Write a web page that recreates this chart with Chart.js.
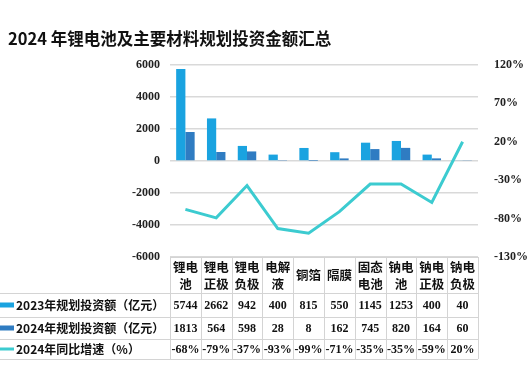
<!DOCTYPE html>
<html>
<head>
<meta charset="utf-8">
<script src="https://cdn.jsdelivr.net/npm/chart.js@4"></script>
<style>
  body { margin: 0; background: #fff; }
  #title { position: absolute; left: 8px; top: 26px; font: bold 16.5px "Noto Sans CJK SC", sans-serif; color: #111; }
  #wrap { position: absolute; left: 0; top: 0; }
</style>
</head>
<body>
<div id="wrap"><canvas id="touzi" width="527" height="367"></canvas></div>
<div id="title">2024 年锂电池及主要材料规划投资金额汇总</div>
<script>
// 分类（表头は2行に分けて表示）
const categories = [['锂电', '池'], ['锂电', '正极'], ['锂电', '负极'], ['电解', '液'], ['铜箔'], ['隔膜'], ['固态', '电池'], ['钠电', '池'], ['钠电', '正极'], ['钠电', '负极']];
const invest2023 = [5744, 2662, 942, 400, 815, 550, 1145, 1253, 400, 40];
const invest2024 = [1813, 564, 598, 28, 8, 162, 745, 820, 164, 60];
const growth = [-68, -79, -37, -93, -99, -71, -35, -35, -59, 20];
const seriesNames = ['2023年规划投资额（亿元）', '2024年规划投资额（亿元）', '2024年同比增速（%）'];
const leftTicks = [-6000, -4000, -2000, 0, 2000, 4000, 6000];
const rightTicks = [-130, -80, -30, 20, 70, 120];

const c1 = '#1aa3e0', c2 = '#2f7cc2', c3 = '#3ccbd0';

// 下のデータ表を描くプラグイン
const tablePlugin = {
  id: 'dataTable',
  afterDraw(chart) {
    const ctx = chart.ctx;
    const area = chart.chartArea;
    const n = categories.length;
    const w = (area.right - area.left) / n;
    const rows = [area.bottom, 293, 317, 339, 359];
    ctx.save();
    ctx.strokeStyle = '#d4d4d4';
    ctx.lineWidth = 1;
    // 縦線
    for (let i = 0; i <= n; i++) {
      const x = Math.round(area.left + i * w) + 0.5;
      ctx.beginPath(); ctx.moveTo(x, rows[0]); ctx.lineTo(x, rows[4]); ctx.stroke();
    }
    // 横線
    ctx.beginPath(); ctx.moveTo(area.left, rows[0] + 0.5); ctx.lineTo(area.right, rows[0] + 0.5); ctx.stroke();
    for (let r = 1; r < rows.length; r++) {
      ctx.beginPath(); ctx.moveTo(0, rows[r] + 0.5); ctx.lineTo(area.right, rows[r] + 0.5); ctx.stroke();
    }
    ctx.fillStyle = '#111';
    ctx.textAlign = 'center';
    ctx.textBaseline = 'middle';
    // 表頭
    ctx.font = 'bold 12.5px "Noto Sans CJK SC"';
    categories.forEach((lab, i) => {
      const cx = area.left + (i + 0.5) * w;
      const mid = (rows[0] + rows[1]) / 2;
      if (lab.length === 1) {
        ctx.fillText(lab[0], cx, mid);
      } else {
        ctx.fillText(lab[0], cx, mid - 8);
        ctx.fillText(lab[1], cx, mid + 9);
      }
    });
    // 数値
    ctx.font = 'bold 12px "Liberation Serif"';
    const vals = [invest2023, invest2024, growth.map(v => v + '%')];
    vals.forEach((arr, r) => {
      const cy = (rows[r + 1] + rows[r + 2]) / 2;
      arr.forEach((v, i) => ctx.fillText(String(v), area.left + (i + 0.5) * w, cy + 1));
    });
    // 凡例
    ctx.textAlign = 'left';
    ctx.font = 'bold 12px "Noto Sans CJK SC"';
    const colors = [c1, c2, c3];
    seriesNames.forEach((s, r) => {
      const cy = (rows[r + 1] + rows[r + 2]) / 2;
      ctx.fillStyle = colors[r];
      if (r < 2) ctx.fillRect(0, cy - 2.5, 14, 5);
      else ctx.fillRect(0, cy - 1.5, 14, 3);
      ctx.fillStyle = '#111';
      ctx.fillText(s, 16, cy);
    });
    ctx.restore();
  }
};

new Chart(document.querySelector('#touzi').getContext('2d'), {
  type: 'bar',
  data: {
    labels: categories.map(c => c.join('')),
    datasets: [
      { type: 'line', label: seriesNames[2], data: growth, yAxisID: 'y2', borderColor: c3, borderWidth: 3, pointRadius: 0, tension: 0, order: 0 },
      { label: seriesNames[0], data: invest2023, backgroundColor: c1, yAxisID: 'y', barPercentage: 1, categoryPercentage: 0.6, order: 1 },
      { label: seriesNames[1], data: invest2024, backgroundColor: c2, yAxisID: 'y', barPercentage: 1, categoryPercentage: 0.6, order: 1 }
    ]
  },
  options: {
    responsive: false,
    animation: false,
    layout: { padding: { top: 65, bottom: 110, left: 0, right: 0 } },
    plugins: { legend: { display: false }, tooltip: { enabled: false } },
    scales: {
      x: { display: false },
      y: {
        position: 'left', min: -6000, max: 6000,
        afterBuildTicks: s => { s.ticks = leftTicks.map(v => ({ value: v })); },
        afterFit: s => { s.width = 170; },
        grid: { color: '#d9d9d9', lineWidth: 1.5, drawTicks: false },
        border: { display: false },
        ticks: { color: '#222', padding: 10, callback: v => String(v), font: { family: '"Liberation Serif", serif', weight: 'bold', size: 12 } }
      },
      y2: {
        position: 'right', min: -130, max: 120,
        afterBuildTicks: s => { s.ticks = rightTicks.map(v => ({ value: v })); },
        afterFit: s => { s.width = 49; },
        grid: { display: false },
        border: { display: false },
        ticks: { color: '#222', padding: 8, callback: v => v + '%', font: { family: '"Liberation Serif", serif', weight: 'bold', size: 12 } }
      }
    }
  },
  plugins: [tablePlugin]
});
</script>
</body>
</html>
